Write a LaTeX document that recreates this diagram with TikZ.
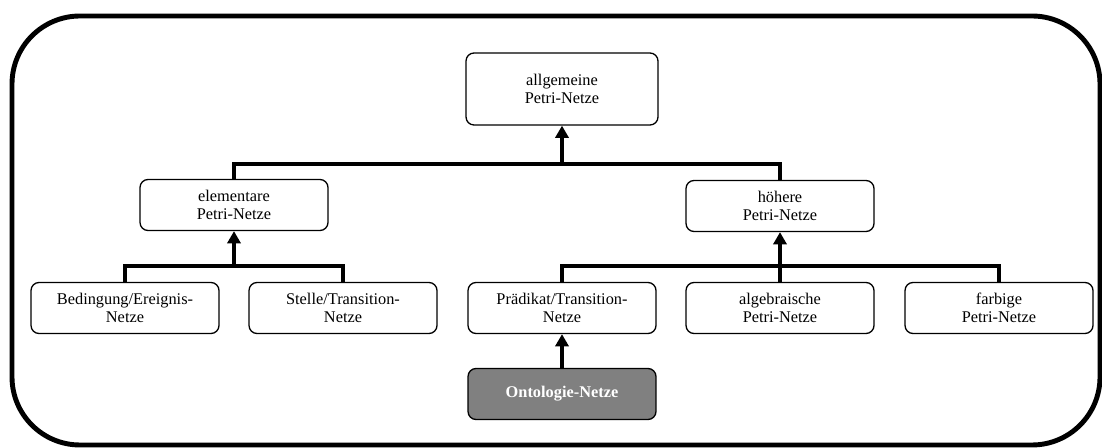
\documentclass[tikz,border=0pt]{standalone}
\usepackage{fontspec}
\setmainfont{Liberation Serif}
\usetikzlibrary{arrows.meta}

\begin{document}
\begin{tikzpicture}[x=0.02cm,y=-0.02cm,
  netbox/.style={draw,rounded corners=0.16cm,line width=0.75pt,align=center,
    minimum width=3.76cm,minimum height=1.02cm,inner sep=1pt,
    font=\fontsize{9.3}{10.2}\selectfont},
  ontobox/.style={netbox,fill=black!50,text=white,font=\fontsize{9.3}{10.2}\selectfont\bfseries},
  bus/.style={line width=2.3pt},
  up/.style={bus,-{Triangle[width=7.5pt,length=7pt]}}]
\useasboundingbox (0,0) rectangle (1102,448);
\draw[line width=2.8pt,rounded corners=1.36cm] (12,16) rectangle (1100,445);
% Knoten
\node[netbox,minimum width=3.84cm,minimum height=1.44cm] (allg) at (562,89) {allgemeine\\Petri-Netze};
\node[netbox] (elem) at (234,205) {elementare\\Petri-Netze};
\node[netbox] (hoeh) at (780,206) {höhere\\Petri-Netze};
\node[netbox] (bed) at (125,308) {Bedingung/Ereignis-\\Netze};
\node[netbox] (stel) at (343,308) {Stelle/Transition-\\Netze};
\node[netbox] (praed) at (562,308) {Prädikat/Transition-\\Netze};
\node[netbox] (alg) at (780,308) {algebraische\\Petri-Netze};
\node[netbox] (farb) at (999,308) {farbige\\Petri-Netze};
\node[ontobox] (onto) at (562,394) {Ontologie-Netze};
% Verbindungen
\coordinate (bus1) at (562,164);
\coordinate (bus2) at (234,266);
\coordinate (bus3) at (780,266);
\draw[bus] (elem.north) |- (bus1) -| (hoeh.north);
\draw[up] (bus1) -- (allg.south);
\draw[bus] (bed.north) |- (bus2) -| (stel.north);
\draw[up] (bus2) -- (elem.south);
\draw[bus] (praed.north) |- (bus3) -| (farb.north);
\draw[bus] (alg.north) -- (bus3);
\draw[up] (bus3) -- (hoeh.south);
\draw[up] (onto.north) -- (praed.south);
\end{tikzpicture}
\end{document}
